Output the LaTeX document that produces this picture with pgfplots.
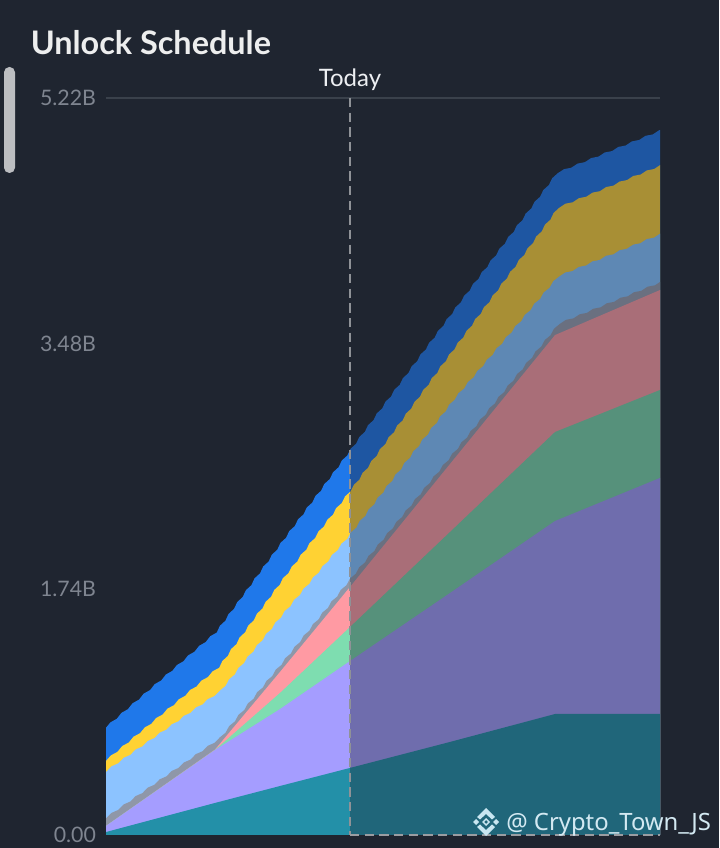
\documentclass[border=0pt]{standalone}
\usepackage{pgfplots}
\pgfplotsset{compat=1.18}
\usepackage{pgfplotstable}
\usepackage{fontspec}
\setmainfont{Lato}
\newfontfamily\markfont{Noto Sans}
\usetikzlibrary{decorations.pathmorphing}

\definecolor{bg}{HTML}{1F2530}
\definecolor{gridc}{HTML}{3A414B}
\definecolor{tickc}{HTML}{7F8590}
\definecolor{todayc}{HTML}{EDEFF2}
% past colours
\definecolor{pblue}{HTML}{1F78EA}
\definecolor{pyellow}{HTML}{FFD233}
\definecolor{plight}{HTML}{8CC3FF}
\definecolor{pgray}{HTML}{8F97A8}
\definecolor{ppink}{HTML}{FF9AA3}
\definecolor{pgreen}{HTML}{7EDDB0}
\definecolor{ppurple}{HTML}{A59DFF}
\definecolor{pteal}{HTML}{2390A8}
% future colours
\definecolor{fblue}{HTML}{1E56A2}
\definecolor{fyellow}{HTML}{A88F35}
\definecolor{flight}{HTML}{5E88B4}
\definecolor{fgray}{HTML}{6A7080}
\definecolor{fpink}{HTML}{A96E78}
\definecolor{fgreen}{HTML}{56917B}
\definecolor{fpurple}{HTML}{6F6DAD}
\definecolor{fteal}{HTML}{20667A}

% cumulative tops of the layers, in billions
\pgfplotstableread{
x    blue  yellow light gray  pink  green purple teal
96   0.706 0.477  0.408 0.076 0.018 0.018 0.018  0.002
106  0.765 0.531  0.453 0.124 0.064 0.064 0.064  0.021
215  1.431 1.169  0.992 0.662 0.605 0.603 0.602  0.227
280  2.061 1.799  1.558 1.220 1.155 1.006 0.892  0.347
350  2.727 2.451  2.146 1.829 1.757 1.473 1.232  0.475
450  3.683 3.421  3.067 2.695 2.628 2.146 1.714  0.659
555  4.675 4.427  3.945 3.607 3.541 2.854 2.224  0.857
660  4.979 4.731  4.250 3.909 3.860 3.152 2.529  0.857
670  5.008 4.760  4.279 3.939 3.889 3.180 2.558  0.857
670  -0.2  -0.2   -0.2  -0.2  -0.2  -0.2  -0.2   -0.2
96   -0.2  -0.2   -0.2  -0.2  -0.2  -0.2  -0.2   -0.2
}\unlock

\pgfplotsset{
  part/.style={scale only axis, height=552.75pt, ymin=0, ymax=5.22,
    hide axis, anchor=south west},
  wavy/.style={decorate, decoration={snake, amplitude=0.55pt, segment length=11pt}},
}

\begin{document}
\begin{tikzpicture}[x=0.75pt, y=0.75pt]
\path[use as bounding box, fill=bg] (0,0) rectangle (719,848);

% scrollbar
\fill[fill=black!0!white!70!bg, rounded corners=4pt] (4,781) rectangle (15,675);

\node[anchor=base west, inner sep=0pt, text=white!92!bg, font=\fontsize{24.3}{26}\selectfont\bfseries]
  at (30.5,793) {Unlock Schedule};

% left of today
\begin{axis}[part, at={(79.5pt,9.75pt)}, width=183pt, xmin=106, xmax=350]
\addplot[fill=pblue, draw=none, wavy] table[y=blue] {\unlock};
\addplot[fill=pyellow, draw=none, wavy] table[y=yellow] {\unlock};
\addplot[fill=plight, draw=none, wavy] table[y=light] {\unlock};
\addplot[fill=pgray, draw=none, wavy] table[y=gray] {\unlock};
\addplot[fill=ppink, draw=none] table[y=pink] {\unlock};
\addplot[fill=pgreen, draw=none] table[y=green] {\unlock};
\addplot[fill=ppurple, draw=none] table[y=purple] {\unlock};
\addplot[fill=pteal, draw=none] table[y=teal] {\unlock};
\end{axis}

% right of today
\begin{axis}[part, at={(262.5pt,9.75pt)}, width=232.5pt, xmin=350, xmax=660]
\addplot[fill=fblue, draw=none, wavy] table[y=blue] {\unlock};
\addplot[fill=fyellow, draw=none, wavy] table[y=yellow] {\unlock};
\addplot[fill=flight, draw=none, wavy] table[y=light] {\unlock};
\addplot[fill=fgray, draw=none, wavy] table[y=gray] {\unlock};
\addplot[fill=fpink, draw=none] table[y=pink] {\unlock};
\addplot[fill=fgreen, draw=none] table[y=green] {\unlock};
\addplot[fill=fpurple, draw=none] table[y=purple] {\unlock};
\addplot[fill=fteal, draw=none] table[y=teal] {\unlock};
\end{axis}

% ticks, top rule, today marker
\begin{axis}[scale only axis, at={(79.5pt,9.75pt)}, anchor=south west,
  width=415.5pt, height=552.75pt, xmin=106, xmax=660, ymin=0, ymax=5.22,
  clip=false, axis line style={draw=none}, major tick length=0pt,
  xtick=\empty, ytick={0,1.74,3.48,5.22},
  yticklabels={0.00,1.74B,3.48B,5.22B},
  yticklabel shift=4pt,
  yticklabel style={text=tickc, font=\fontsize{16}{18}\selectfont}]
\addplot[gridc, line width=1pt] coordinates {(106,5.22) (660,5.22)};
\addplot[white!50!bg, line width=1pt, dash pattern=on 7pt off 4pt] coordinates {(350,5.22) (350,0)};
\addplot[white!55!bg, line width=0.8pt, dash pattern=on 7pt off 4pt] coordinates {(350,0) (660,0)};
\node[anchor=base, text=todayc, font=\fontsize{18}{20}\selectfont, inner sep=0pt]
  at (axis cs:350,5.3) {Today};
\end{axis}

% watermark
\begin{scope}[shift={(486,26)}, fill=white!80!cyan!90!gray]
\fill (-13,0) -- (-10,3) -- (-7,0) -- (-10,-3) -- cycle;
\fill (13,0) -- (10,3) -- (7,0) -- (10,-3) -- cycle;
\fill[even odd rule] (0,4) -- (4,0) -- (0,-4) -- (-4,0) -- cycle
  (0,2) -- (2,0) -- (0,-2) -- (-2,0) -- cycle;
\fill (0,14) -- (9,5) -- (6,2.5) -- (0,8) -- (-6,2.5) -- (-9,5) -- cycle;
\fill (0,-14) -- (9,-5) -- (6,-2.5) -- (0,-8) -- (-6,-2.5) -- (-9,-5) -- cycle;
\end{scope}
\node[anchor=base west, inner sep=0pt, text=white!85!cyan!90!gray, font=\markfont\fontsize{17.9}{19}\selectfont]
  at (506,17) {@ Crypto\_Town\_JS};
\end{tikzpicture}
\end{document}
